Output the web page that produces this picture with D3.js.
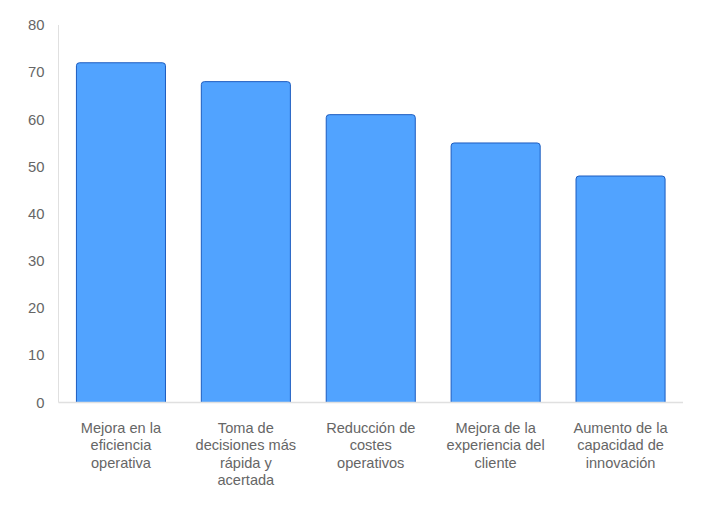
<!DOCTYPE html>
<html><head><meta charset="utf-8">
<script src="https://cdn.jsdelivr.net/npm/d3@7"></script>
<style>body{margin:0;background:#fff}svg{display:block}</style>
</head><body>
<svg id="c" width="707" height="517"></svg>
<script>
const categories = [
  ["Mejora en la","eficiencia","operativa"],
  ["Toma de","decisiones más","rápida y","acertada"],
  ["Reducción de","costes","operativos"],
  ["Mejora de la","experiencia del","cliente"],
  ["Aumento de la","capacidad de","innovación"]
];
const values = [72, 68, 61, 55, 48];
const yTicks = [0,10,20,30,40,50,60,70,80];

(function(){
const svg = d3.select("#c");
const mLeft = 58.5, mRight = 683, mTop = 25, mBottom = 402.5;
const x = d3.scaleBand().domain(d3.range(values.length)).range([mLeft, mRight]).paddingInner(0.287).paddingOuter(0.1435);
const y = d3.scaleLinear().domain([0, 80]).range([mBottom, mTop]);
const font = "'Liberation Sans', Arial, sans-serif";

svg.append("line").attr("x1", mLeft).attr("x2", mLeft).attr("y1", mTop).attr("y2", mBottom).attr("stroke", "#e0e0e0").attr("stroke-width", 1);

svg.selectAll("rect.bar").data(values).join("rect").attr("class","bar")
  .attr("x", (d,i) => x(i)).attr("width", x.bandwidth())
  .attr("y", d => y(d)).attr("height", d => mBottom - y(d) + 3)
  .attr("rx", 3).attr("ry", 3)
  .attr("fill", "#51a3ff").attr("stroke", "#1c5cc0").attr("stroke-width", 1);

svg.append("rect").attr("x", mLeft+1).attr("y", mBottom).attr("width", mRight-mLeft).attr("height", 6).attr("fill", "#fff");
svg.append("line").attr("x1", mLeft).attr("x2", mRight).attr("y1", mBottom).attr("y2", mBottom).attr("stroke", "#e0e0e0").attr("stroke-width", 1.5);

svg.selectAll("text.yt").data(yTicks).join("text").attr("class","yt")
  .attr("x", 44.5).attr("y", d => y(d)).attr("dy", "0.35em")
  .attr("text-anchor", "end").attr("font-family", font).attr("font-size", 14.8).attr("fill", "#666")
  .text(d => d);

const g = svg.selectAll("text.xt").data(categories).join("text").attr("class","xt")
  .attr("text-anchor", "middle").attr("font-family", font).attr("font-size", 14.6).attr("fill", "#666");
g.each(function(lines, i){
  const t = d3.select(this);
  lines.forEach((l, j) => {
    t.append("tspan").attr("x", x(i) + x.bandwidth()/2).attr("y", 432.5 + j*17.6).text(l);
  });
});
})();
</script>
</body></html>
